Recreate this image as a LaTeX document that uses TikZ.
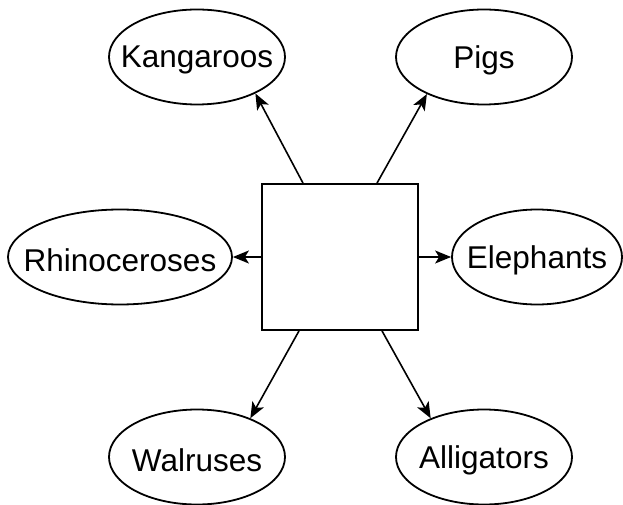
\documentclass[tikz,border=0pt]{standalone}
\usepackage{fontspec}
\setmainfont{Liberation Sans}
\usetikzlibrary{arrows.meta, shapes.geometric}

\begin{document}
\begin{tikzpicture}
      [
        x=1pt, y=1pt,
        animal/.style={ellipse, draw, line width=1.8pt, inner sep=0pt,
          minimum width=176pt, minimum height=95pt,
          label={[font=\fontsize{31.5}{38}\selectfont, yshift=-3pt]center:#1}},
        hubbox/.style={rectangle, draw, line width=1.8pt,
          minimum width=156pt, minimum height=146pt},
        link/.style={line width=1.6pt, -{Stealth[length=16pt,width=13pt,inset=4pt]}}
      ]
      \useasboundingbox (0,0) rectangle (623,504);
      % nodes
      \node [hubbox] (hub) at (340,247) {};
      \node [animal=Kangaroos] (kang)  at (197,447) {};
      \node [animal=Pigs]      (pigs)  at (484,447) {};
      \node [animal=Rhinoceroses, minimum width=224pt] (rhino) at (120,247) {};
      \node [animal=Elephants, minimum width=170pt]    (eleph) at (537,247) {};
      \node [animal=Walruses]  (walr)  at (197,47)  {};
      \node [animal=Alligators] (alli) at (484,47)  {};
      % arcs
      \draw [link] ([xshift=-37pt]hub.north) -- (kang.-32);
      \draw [link] ([xshift=37pt]hub.north)  -- (pigs.-147);
      \draw [link] (hub.west) -- (rhino.east);
      \draw [link] (hub.east) -- (eleph.west);
      \draw [link] ([xshift=-41pt]hub.south) -- (walr.36);
      \draw [link] ([xshift=42pt]hub.south)  -- (alli.144);
\end{tikzpicture}
\end{document}
